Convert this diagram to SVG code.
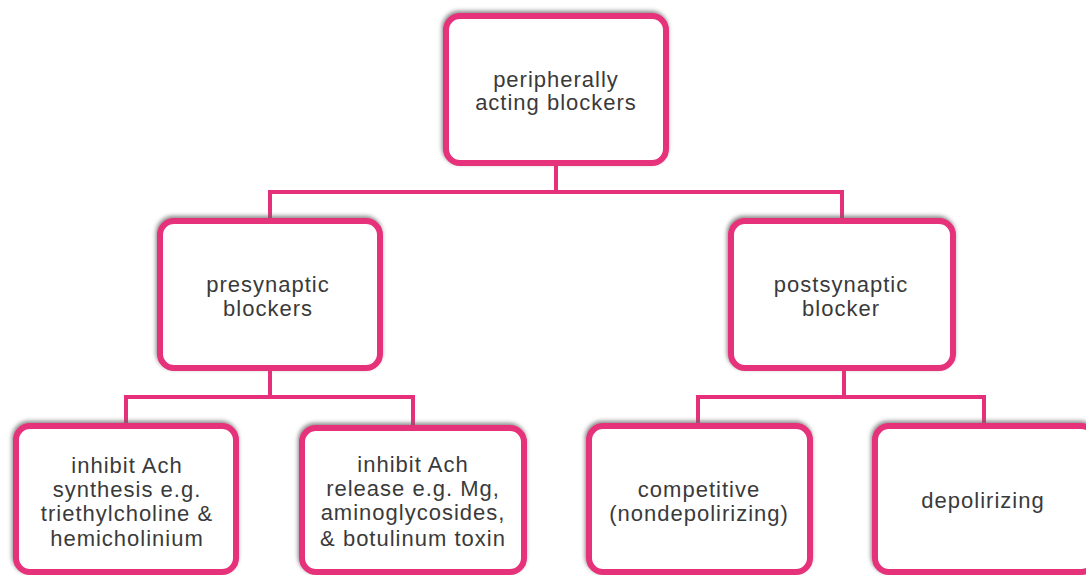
<svg xmlns="http://www.w3.org/2000/svg" width="1086" height="575" viewBox="0 0 1086 575">
<defs>
<filter id="sh" x="-10%" y="-10%" width="120%" height="120%">
<feGaussianBlur in="SourceAlpha" stdDeviation="2"/>
<feOffset dx="-1" dy="-2" result="b"/>
<feFlood flood-color="#666" flood-opacity="0.8"/>
<feComposite in2="b" operator="in"/>
<feMerge><feMergeNode/><feMergeNode in="SourceGraphic"/></feMerge>
</filter>
</defs>
<style>
.box{fill:#fff;stroke:#E6317A;stroke-width:6;filter:url(#sh)}
.con{fill:none;stroke:#E6317A;stroke-width:4}
text{font-family:"Liberation Sans",Arial,sans-serif;font-size:22px;letter-spacing:1px;fill:#3a3a3a;text-anchor:middle}
</style>
<rect width="1086" height="575" fill="#fff"/>
<g id="connectors">
<path class="con" d="M556,163 V192 M270,220 V192 H842 V220"/>
<path class="con" d="M270,370 V397 M126,425 V397 H413 V427"/>
<path class="con" d="M844,370 V397 M698,425 V397 H984 V425"/>
</g>
<g id="n-top">
<rect class="box" x="446" y="16" width="220" height="147" rx="14"/>
<text x="556" y="87">peripherally</text>
<text x="556" y="110">acting blockers</text>
</g>
<g id="n-pre">
<rect class="box" x="160" y="221" width="220" height="147" rx="14"/>
<text x="268" y="292">presynaptic</text>
<text x="268" y="316">blockers</text>
</g>
<g id="n-post">
<rect class="box" x="731" y="221" width="222" height="147" rx="14"/>
<text x="841" y="292">postsynaptic</text>
<text x="841" y="316">blocker</text>
</g>
<g id="n-synth">
<rect class="box" x="16" y="426" width="220" height="146" rx="14"/>
<text x="127" y="473">inhibit Ach</text>
<text x="127" y="497">synthesis e.g.</text>
<text x="127" y="521">triethylcholine &amp;</text>
<text x="127" y="546">hemicholinium</text>
</g>
<g id="n-release">
<rect class="box" x="302" y="428" width="222" height="144" rx="14"/>
<text x="413" y="472">inhibit Ach</text>
<text x="413" y="496">release e.g. Mg,</text>
<text x="413" y="520">aminoglycosides,</text>
<text x="413" y="546">&amp; botulinum toxin</text>
</g>
<g id="n-comp">
<rect class="box" x="589" y="426" width="221" height="146" rx="14"/>
<text x="699" y="497">competitive</text>
<text x="699" y="521">(nondepolirizing)</text>
</g>
<g id="n-depol">
<rect class="box" x="875" y="426" width="220" height="146" rx="14"/>
<text x="983" y="508">depolirizing</text>
</g>
</svg>
